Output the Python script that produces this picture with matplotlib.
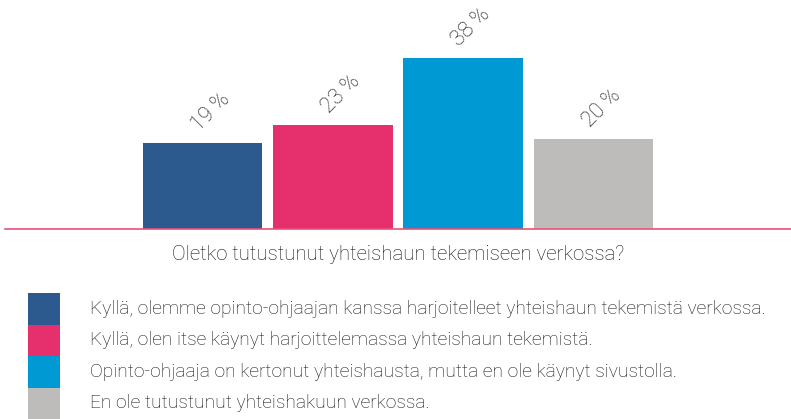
import matplotlib
matplotlib.use("Agg")
import matplotlib.pyplot as plt
from matplotlib.patches import Rectangle

plt.rcParams['font.family'] = ['Roboto', 'DejaVu Sans']

categories = [
    "Kyllä, olemme opinto-ohjaajan kanssa harjoitelleet yhteishaun tekemistä verkossa.",
    "Kyllä, olen itse käynyt harjoittelemassa yhteishaun tekemistä.",
    "Opinto-ohjaaja on kertonut yhteishausta, mutta en ole käynyt sivustolla.",
    "En ole tutustunut yhteishakuun verkossa.",
]
values = [19, 23, 38, 20]
colors = ["#2d5a8e", "#e5306d", "#0099d3", "#bdbcbb"]
xlabel = "Oletko tutustunut yhteishaun tekemiseen verkossa?"

W, H = 791, 419
fig = plt.figure(figsize=(W / 100, H / 100), dpi=100)

base_px = 229
ax = fig.add_axes([5 / W, 1 - base_px / H, (791 - 5) / W, base_px / H])
x = list(range(len(values)))
ax.bar(x, values, width=0.92, color=colors)
ax.set_xlim(-1.516, 4.516)
ax.set_ylim(0, base_px / 4.5)
for s in ["top", "right", "left"]:
    ax.spines[s].set_visible(False)
ax.spines["bottom"].set_color("#e8507a")
ax.spines["bottom"].set_linewidth(1.2)
ax.set_xticks([])
ax.set_yticks([])
for xi, v in zip(x, values):
    ax.annotate(f"{v} %", xy=(xi, v), xytext=(8, 31), textcoords="offset pixels",
                ha="center", va="center", rotation=45, fontsize=15.5,
                fontweight="light", color="#111111")

fig.text(398 / W, 1 - 255 / H, xlabel, ha="center", va="center", fontsize=14.7,
         fontweight="light", color="#111111")

top = 293
h = (419 - 293) / 4
for i, (c, lab) in enumerate(zip(colors, categories)):
    y0 = top + i * h
    fig.add_artist(Rectangle((28 / W, 1 - (y0 + h) / H), 32 / W, h / H,
                             transform=fig.transFigure, color=c, lw=0))
    fig.text(90 / W, 1 - (y0 + h / 2) / H, lab, ha="left", va="center",
             fontsize=13.8, fontweight="light", color="#111111")

fig.savefig("out.png", dpi=100)
